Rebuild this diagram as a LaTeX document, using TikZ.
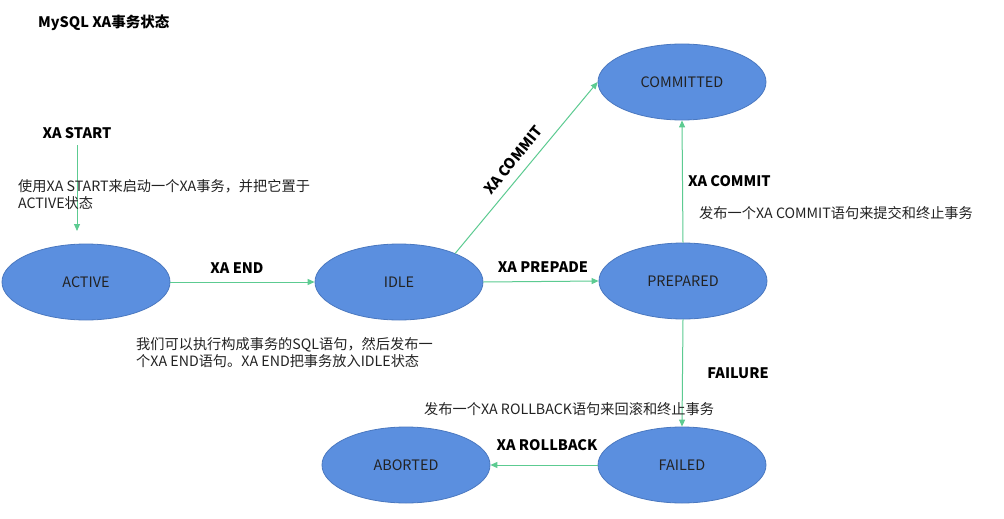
\documentclass[tikz,border=0pt]{standalone}
\usepackage{fontspec}
\setmainfont{Noto Sans CJK SC}
\usetikzlibrary{shapes.geometric,arrows.meta}
\definecolor{stfill}{HTML}{5B8FDF}
\definecolor{stdraw}{HTML}{4A78C0}
\definecolor{arrgreen}{HTML}{5CCB91}
\definecolor{txt}{HTML}{222222}
\tikzset{
  state/.style={ellipse, draw=stdraw, line width=0.8pt, fill=stfill, minimum width=168pt, minimum height=76pt, inner sep=0pt, font=\fontsize{14.4}{17}\selectfont, text=txt},
  arr/.style={draw=arrgreen, line width=1pt, -{Triangle[length=7pt,width=6pt]}},
  lbl/.style={font=\fontsize{14.5}{17}\selectfont\bfseries, text=black, inner sep=0pt},
  desc/.style={font=\fontsize{14.2}{17}\selectfont, text=txt, inner sep=0pt, align=left}
}
\begin{document}
\begin{tikzpicture}[x=1pt,y=-1pt]
\useasboundingbox (0,0) rectangle (1004,519);
\fill[white] (0,0) rectangle (1004,519);
% title
\node[lbl, anchor=west] (title) at (38,23) {MySQL XA事务状态};
% states
\node[state] (active) at (86,282) {ACTIVE};
\node[state] (idle) at (399,282) {IDLE};
\node[state] (prepared) at (683,281) {PREPARED};
\node[state] (committed) at (682,82) {COMMITTED};
\node[state] (failed) at (682,465) {FAILED};
\node[state] (aborted) at (406,465) {ABORTED};
% start
\node[lbl] (xastart) at (77,133) {XA START};
\coordinate (startbeg) at (77,145);
\coordinate (startend) at (77,231);
\draw[arr] (startbeg) -- (startend);
\node[desc, anchor=west] (d1) at (18,195) {使用XA START来启动一个XA事务，并把它置于\\ACTIVE状态};
% edges
\draw[arr] (active.east) -- (idle.west);
\node[lbl] (lend) at (237,268) {XA END};
\draw[arr] (idle.east) -- (prepared.west);
\node[lbl] (lprep) at (543,267) {XA PREPADE};
\draw[arr] (idle.27) -- (committed.west);
\node[lbl, rotate=51] (lcom1) at (513,160) {XA COMMIT};
\draw[arr] (prepared.north) -- (committed.south);
\node[lbl, anchor=west] (lcom2) at (688,181) {XA COMMIT};
\node[desc, anchor=west] (d3) at (699,213) {发布一个XA COMMIT语句来提交和终止事务};
\draw[arr] (prepared.south) -- (failed.north);
\node[lbl] (lfail) at (738,373) {FAILURE};
\node[desc, anchor=west] (d4) at (424,409) {发布一个XA ROLLBACK语句来回滚和终止事务};
\draw[arr] (failed.west) -- (aborted.east);
\node[lbl] (lroll) at (547,445) {XA ROLLBACK};
\node[desc, anchor=west] (d2) at (136,353) {我们可以执行构成事务的SQL语句，然后发布一\\个XA END语句。XA END把事务放入IDLE状态};
\end{tikzpicture}
\end{document}
